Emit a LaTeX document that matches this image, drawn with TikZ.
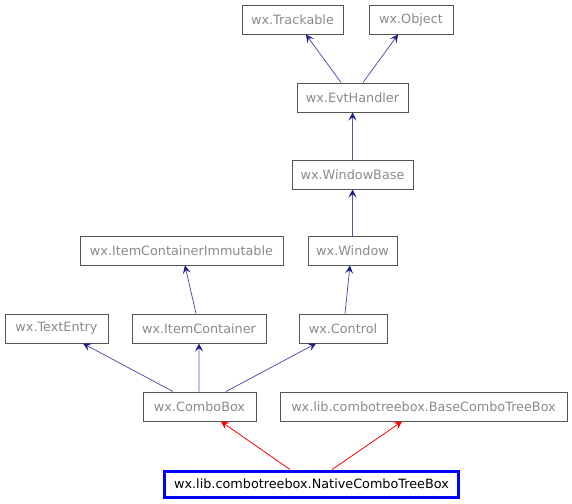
\documentclass[tikz,border=0pt]{standalone}
\usepackage{fontspec}
\setmainfont{DejaVu Sans}
\usetikzlibrary{arrows.meta}
\definecolor{boxline}{HTML}{555555}
\definecolor{boxtext}{HTML}{8A8A8A}
\definecolor{inhline}{HTML}{5555B0}
\definecolor{inhtip}{HTML}{1C1C8C}
\definecolor{focusline}{HTML}{0000FF}

\begin{document}
\begin{tikzpicture}[
    x=0.75pt, y=-0.75pt,
    every node/.style={draw=boxline, text=boxtext, font=\fontsize{9.6}{12}\selectfont,
                       inner sep=0pt, minimum height=21.75pt, line width=0.75pt},
    inh/.style={draw=inhline, line width=0.6pt, -{Stealth[length=6pt, width=6pt, inset=2.5pt, color=inhtip]}},
    redinh/.style={draw=red, line width=0.6pt, -{Stealth[length=6pt, width=6pt, inset=2.5pt, color=red]}},
]
  \useasboundingbox (0,0) rectangle (572,504);

  \node [minimum width=75.75pt]  (track)   at (292.5,19.5)  {wx.Trackable};
  \node [minimum width=63pt]     (object)  at (411,19.5)    {wx.Object};
  \node [minimum width=83.25pt]  (evt)     at (352.5,97.5)  {wx.EvtHandler};
  \node [minimum width=90.75pt]  (winbase) at (352.5,174.5) {wx.WindowBase};
  \node [minimum width=152.25pt] (immut)   at (181.5,250.5) {wx.ItemContainerImmutable};
  \node [minimum width=66.75pt]  (window)  at (352.5,250.5) {wx.Window};
  \node [minimum width=77.25pt]  (textent) at (56.5,328.5)  {wx.TextEntry};
  \node [minimum width=100.5pt]  (itemcon) at (199,328.5)   {wx.ItemContainer};
  \node [minimum width=66pt]     (control) at (343,328.5)   {wx.Control};
  \node [minimum width=84.75pt]  (combo)   at (199.5,406.5) {wx.ComboBox};
  \node [minimum width=215.25pt] (basectb) at (423.5,406.5) {wx.lib.combotreebox.BaseComboTreeBox};
  \node [draw=focusline, line width=2.25pt, text=black, minimum width=220.5pt, minimum height=19.5pt]
                                 (native)  at (311.5,484)   {wx.lib.combotreebox.NativeComboTreeBox};

  \draw [inh] ([xshift=-8.6pt]evt.north)    -- ([xshift=10.1pt]track.south);
  \draw [inh] ([xshift=7.9pt]evt.north)     -- ([xshift=-9.75pt]object.south);
  \draw [inh] (winbase.north)               -- (evt.south);
  \draw [inh] (window.north)                -- (winbase.south);
  \draw [inh] ([xshift=1.5pt]control.north) -- ([xshift=-1.9pt]window.south);
  \draw [inh] ([xshift=-2.25pt]itemcon.north) -- ([xshift=2.6pt]immut.south);
  \draw [inh] ([xshift=-19.9pt]combo.north) -- ([xshift=19.9pt]textent.south);
  \draw [inh] ([xshift=-0.4pt]combo.north)  -- (itemcon.south);
  \draw [inh] ([xshift=19.9pt]combo.north)  -- ([xshift=-20.25pt]control.south);
  \draw [redinh] ([xshift=-16.1pt]native.north) -- ([xshift=16.1pt]combo.south);
  \draw [redinh] ([xshift=15.4pt]native.north)  -- ([xshift=-16.1pt]basectb.south);
\end{tikzpicture}
\end{document}
